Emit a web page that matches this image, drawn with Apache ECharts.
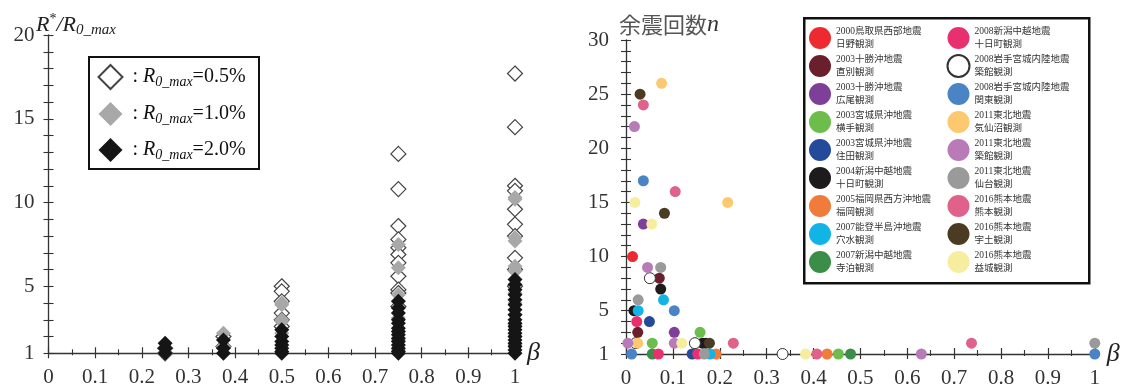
<!DOCTYPE html>
<html>
<head>
<meta charset="utf-8">
<script src="https://cdn.jsdelivr.net/npm/echarts@6/dist/echarts.min.js"></script>
<style>
html, body { margin: 0; padding: 0; background: #fff; }
#main { width: 1123px; height: 389px; }
</style>
</head>
<body>
<div id="main"></div>
<script>
// ---- left chart: R*/R0_max against beta, [beta, value] ----
var r05 = [
    [0.25, 1.0], [0.25, 1.3],
    [0.375, 1.4], [0.375, 2.0],
    [0.5, 5.0], [0.5, 4.7], [0.5, 4.1], [0.5, 3.4], [0.5, 3.0], [0.5, 2.6],
    [0.75, 12.9], [0.75, 10.8], [0.75, 8.6], [0.75, 7.8], [0.75, 7.3], [0.75, 6.9], [0.75, 6.4],
    [0.75, 5.6], [0.75, 4.8], [0.75, 4.6], [0.75, 3.8],
    [1, 17.7], [1, 14.5], [1, 11.0], [1, 10.7], [1, 9.6], [1, 8.7], [1, 8.0], [1, 6.7], [1, 6.0], [1, 5.0]
];
var r10 = [
    [0.25, 1.0],
    [0.375, 2.2], [0.375, 1.4],
    [0.5, 4.0], [0.5, 3.9], [0.5, 3.0], [0.5, 2.9], [0.5, 2.2],
    [0.75, 7.5], [0.75, 6.1], [0.75, 4.5], [0.75, 3.1], [0.75, 2.3], [0.75, 1.8], [0.75, 1.2],
    [1, 10.3], [1, 10.2], [1, 7.9], [1, 7.7], [1, 6.2], [1, 5.9], [1, 4.6], [1, 4.0],
    [1, 3.3], [1, 2.7], [1, 2.0], [1, 1.5]
];
var r20 = [
    [0.25, 1.0], [0.25, 1.3], [0.25, 1.6],
    [0.375, 1.0], [0.375, 1.3], [0.375, 1.8],
    [0.5, 2.4], [0.5, 2.0], [0.5, 1.7], [0.5, 1.5], [0.5, 1.3], [0.5, 1.1], [0.5, 1.0],
    [0.75, 4.1], [0.75, 3.7], [0.75, 3.4], [0.75, 3.0], [0.75, 2.8], [0.75, 2.5], [0.75, 2.3],
    [0.75, 2.1], [0.75, 1.9], [0.75, 1.7], [0.75, 1.5], [0.75, 1.3], [0.75, 1.1], [0.75, 1.0],
    [1, 5.4], [1, 5.1], [1, 4.8], [1, 4.5], [1, 4.2], [1, 3.9], [1, 3.6], [1, 3.3], [1, 3.0],
    [1, 2.8], [1, 2.6], [1, 2.4], [1, 2.2], [1, 2.0], [1, 1.8], [1, 1.6], [1, 1.4], [1, 1.2], [1, 1.0]
];
var leftNames = ['0.5%', '1.0%', '2.0%'];

// ---- right chart: aftershock count n against beta, one list per station ----
var stations = [
    '2000鳥取県西部地震\n日野観測',
    '2003十勝沖地震\n直別観測',
    '2003十勝沖地震\n広尾観測',
    '2003宮城県沖地震\n横手観測',
    '2003宮城県沖地震\n住田観測',
    '2004新潟中越地震\n十日町観測',
    '2005福岡県西方沖地震\n福岡観測',
    '2007能登半島沖地震\n穴水観測',
    '2007新潟中越地震\n寺泊観測',
    '2008新潟中越地震\n十日町観測',
    '2008岩手宮城内陸地震\n築館観測',
    '2008岩手宮城内陸地震\n関東観測',
    '2011東北地震\n気仙沼観測',
    '2011東北地震\n築館観測',
    '2011東北地震\n仙台観測',
    '2016熊本地震\n熊本観測',
    '2016熊本地震\n宇土観測',
    '2016熊本地震\n益城観測'
];
var stationPoints = [
    [[0.014, 10]],
    [[0.071, 8], [0.025, 3]],
    [[0.037, 13], [0.103, 3]],
    [[0.158, 3], [0.056, 2], [0.453, 1]],
    [[0.050, 4], [0.141, 1]],
    [[0.074, 7], [0.017, 5], [0.163, 2], [0.170, 2]],
    [[0.192, 1], [0.429, 1]],
    [[0.080, 6], [0.026, 5], [0.179, 1]],
    [[0.056, 1], [0.479, 1]],
    [[0.023, 4], [0.069, 1], [0.153, 1]],
    [[0.051, 8], [0.021, 2], [0.147, 2], [0.334, 1]],
    [[0.037, 17], [0.103, 5], [0.012, 1], [1, 1]],
    [[0.076, 26], [0.217, 15], [0.025, 2]],
    [[0.018, 22], [0.046, 9], [0.004, 2], [0.103, 2], [0.630, 1]],
    [[0.074, 9], [0.026, 6], [0.167, 1], [1, 2]],
    [[0.037, 24], [0.105, 16], [0.229, 2], [0.407, 1], [0.737, 2]],
    [[0.030, 25], [0.082, 14], [0.178, 2]],
    [[0.019, 15], [0.055, 13], [0.119, 2], [0.383, 1]]
];
var stationColors = [
    '#ed2a2f', '#6a1f2d', '#7d3f98', '#6cbd4b', '#244b9b', '#1d1b1c',
    '#f07b3b', '#12b4e6', '#3a8e48', '#e9306e', '#ffffff', '#4a84c4',
    '#fdc970', '#b87bb8', '#9a9a9a', '#e0628a', '#4b3b22', '#f6ee9e'
];

var SERIF = '"Liberation Serif", "Times New Roman", "Noto Sans CJK JP", serif';
var myChart = echarts.init(document.getElementById('main'));

function majorLabel(v) {
    return (v === 1 || v % 5 === 0) ? String(v) : '';
}

// primary axis with labels + outer ticks, secondary axis drawing the inner half of the ticks
function xAxes(gridIndex) {
    var base = {
        gridIndex: gridIndex, type: 'value', position: 'bottom',
        min: 0, max: 1, interval: 0.1,
        splitLine: { show: false },
        minorSplitLine: { show: false }
    };
    return [
        Object.assign({}, base, {
            name: 'β', nameLocation: 'end', nameGap: 12,
            nameTextStyle: { fontFamily: SERIF, fontSize: 26, fontStyle: 'italic', color: '#222', padding: [20, 0, 0, 0] },
            axisLine: { onZero: false, lineStyle: { color: '#333', width: 1.3 } },
            axisTick: { show: true, length: 5, lineStyle: { color: '#333', width: 1.2 } },
            minorTick: { show: true, splitNumber: 2, length: 2, lineStyle: { color: '#333', width: 1.1 } },
            axisLabel: { margin: 14, fontFamily: SERIF, fontSize: 21, color: '#333' }
        }),
        Object.assign({}, base, {
            axisLine: { show: false, onZero: false },
            axisTick: { show: true, inside: true, length: 6, lineStyle: { color: '#333', width: 1.2 } },
            minorTick: { show: true, splitNumber: 2, length: 4, lineStyle: { color: '#333', width: 1.1 } },
            axisLabel: { show: false }
        })
    ];
}

function yAxes(gridIndex, min, max, margin) {
    var base = {
        gridIndex: gridIndex, type: 'value', position: 'left',
        min: min, max: max, interval: 1,
        splitLine: { show: false }
    };
    return [
        Object.assign({}, base, {
            axisLine: { onZero: false, lineStyle: { color: '#333', width: 1.3 } },
            axisTick: { show: true, length: 5, lineStyle: { color: '#333', width: 1.1 } },
            axisLabel: { margin: margin, fontFamily: SERIF, fontSize: 21, color: '#333', formatter: majorLabel }
        }),
        Object.assign({}, base, {
            axisLine: { show: false, onZero: false },
            axisTick: { show: true, inside: true, length: 5, lineStyle: { color: '#333', width: 1.1 } },
            axisLabel: { show: false }
        })
    ];
}

var legendRich = {
    a: { fontFamily: SERIF, fontSize: 20, color: '#111', lineHeight: 24 },
    i: { fontFamily: SERIF, fontSize: 20, fontStyle: 'italic', color: '#111', lineHeight: 24 },
    s: { fontFamily: SERIF, fontSize: 14, fontStyle: 'italic', color: '#111', lineHeight: 14, verticalAlign: 'bottom' }
};

var series = [
    {
        name: leftNames[0], type: 'scatter', xAxisIndex: 0, yAxisIndex: 0,
        symbol: 'diamond', symbolSize: [15, 15], z: 2,
        itemStyle: { color: '#ffffff', borderColor: '#444', borderWidth: 1.2, opacity: 1 },
        data: r05
    },
    {
        name: leftNames[1], type: 'scatter', xAxisIndex: 0, yAxisIndex: 0,
        symbol: 'diamond', symbolSize: [15, 15], z: 3,
        itemStyle: { color: '#a8a8a8', opacity: 1 },
        data: r10
    },
    {
        name: leftNames[2], type: 'scatter', xAxisIndex: 0, yAxisIndex: 0,
        symbol: 'diamond', symbolSize: [15, 15], z: 4,
        itemStyle: { color: '#151515', opacity: 1 },
        data: r20
    }
];

stations.forEach(function (name, k) {
    var white = stationColors[k] === '#ffffff';
    series.push({
        name: name, type: 'scatter', xAxisIndex: 2, yAxisIndex: 2,
        symbol: 'circle', symbolSize: 11,
        itemStyle: white
            ? { color: '#ffffff', borderColor: '#333', borderWidth: 1, opacity: 1 }
            : { color: stationColors[k], opacity: 1 },
        data: stationPoints[k]
    });
});

var stationLegend = function (names, left) {
    return {
        data: names, orient: 'vertical', left: left, top: 25, padding: 0,
        icon: 'circle', itemWidth: 22, itemHeight: 22, itemGap: 2,
        selectedMode: false,
        textStyle: { fontFamily: SERIF, fontSize: 9.5, lineHeight: 13, color: '#333' }
    };
};

option = {
    animation: false,
    backgroundColor: '#fff',
    grid: [
        { left: 48.5, top: 35, width: 466.5, height: 318.3 },
        { left: 626, top: 40, width: 468.8, height: 315.5 }
    ],
    xAxis: xAxes(0).concat(xAxes(1)),
    yAxis: yAxes(0, 1, 20, 14).concat(yAxes(1, 1, 30, 17)),
    legend: [
        {
            data: leftNames, orient: 'vertical', left: 97.5, top: 64, padding: 0,
            itemWidth: 24, itemHeight: 24, itemGap: 12,
            selectedMode: false,
            formatter: function (name) {
                return '{a| : }{i|R}{s|0_max}{a|=' + name + '}';
            },
            textStyle: { rich: legendRich }
        },
        stationLegend(stations.slice(0, 9), 809),
        stationLegend(stations.slice(9), 946.5)
    ],
    graphic: [
        {
            type: 'rect', left: 88, top: 56, z: 1,
            shape: { width: 170, height: 112 },
            style: { fill: '#fff', stroke: '#111', lineWidth: 2 }
        },
        {
            type: 'rect', left: 803, top: 17, z: 1,
            shape: { width: 285, height: 265 },
            style: { fill: '#fff', stroke: '#111', lineWidth: 2.5 }
        },
        {
            type: 'text', x: 36, y: 12, z: 5,
            style: {
                text: '{r|R}{sup|*}{r|/R}{sub|0_max}',
                rich: {
                    r: { fontFamily: SERIF, fontSize: 22, fontStyle: 'italic', fill: '#222', lineHeight: 26 },
                    sup: { fontFamily: SERIF, fontSize: 14, fill: '#222', lineHeight: 14, verticalAlign: 'top' },
                    sub: { fontFamily: SERIF, fontSize: 15, fontStyle: 'italic', fill: '#222', lineHeight: 15, verticalAlign: 'bottom' }
                }
            }
        },
        {
            type: 'text', x: 619, y: 12, z: 5,
            style: {
                text: '{c|余震回数}{n|n}',
                rich: {
                    c: { fontFamily: '"Noto Sans CJK JP", sans-serif', fontSize: 22, fill: '#555', lineHeight: 26 },
                    n: { fontFamily: SERIF, fontSize: 24, fontStyle: 'italic', fill: '#333', lineHeight: 26 }
                }
            }
        }
    ],
    series: series
};

myChart.setOption(option);
window.addEventListener('resize', function () {
    myChart.resize();
});
</script>
</body>
</html>
